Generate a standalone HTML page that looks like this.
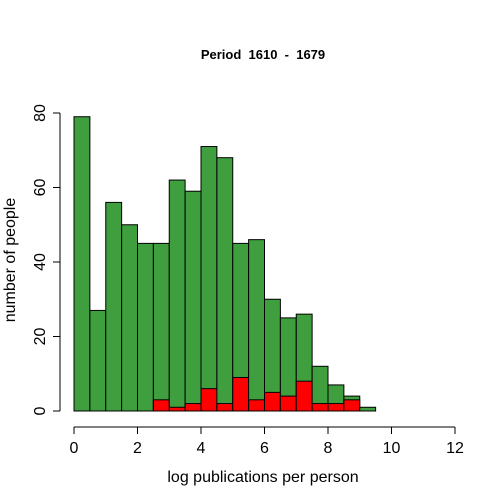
<!DOCTYPE html>
<html><head><meta charset="utf-8"><style>body{margin:0;background:#fff}svg{display:block;font-family:"Liberation Sans",Arial,sans-serif}</style></head>
<body>
<svg id="chart" width="500" height="500">
<text x="263" y="59" text-anchor="middle" font-size="13" font-weight="bold" xml:space="preserve">Period  1610  -  1679</text>
<g id="bars"></g>
<g id="axes"></g>
<text x="263" y="482" text-anchor="middle" font-size="16">log publications per person</text>
<text transform="translate(15,260) rotate(-90)" text-anchor="middle" font-size="16">number of people</text>
</svg>
<script>
const binStarts=[0,0.5,1,1.5,2,2.5,3,3.5,4,4.5,5,5.5,6,6.5,7,7.5,8,8.5,9];
const totalCounts=[79,27,56,50,45,45,62,59,71,68,45,46,30,25,26,12,7,4,1];
const redCounts=[0,0,0,0,0,3,1,2,6,2,9,3,5,4,8,2,2,3,0];
const xTicks=[0,2,4,6,8,10,12];
const yTicks=[0,20,40,60,80];
const binWidth=0.5;
const ns="http://www.w3.org/2000/svg";
const sx=v=>74+v*31.75, sy=v=>411-v*3.725;
const bars=document.getElementById('bars'), axes=document.getElementById('axes');
function mk(tag,attrs,parent){const e=document.createElementNS(ns,tag);for(const k in attrs)e.setAttribute(k,attrs[k]);parent.appendChild(e);return e;}
binStarts.forEach((b,i)=>{
  const g=mk('rect',{x:sx(b),y:sy(totalCounts[i]),width:sx(b+binWidth)-sx(b),height:sy(0)-sy(totalCounts[i]),fill:'#3f9f3f',stroke:'#000','stroke-width':1},bars);
  
  
  if(redCounts[i]>0){
    const r=mk('rect',{x:sx(b),y:sy(redCounts[i]),width:sx(b+binWidth)-sx(b),height:sy(0)-sy(redCounts[i]),fill:'#ff0000',stroke:'#000','stroke-width':1},bars);
    
    
  }
});
const xl=mk('line',{x1:sx(0),x2:sx(12),y1:427,y2:427,stroke:'#000'},axes);


xTicks.forEach(t=>{
  mk('line',{x1:sx(t),x2:sx(t),y1:427,y2:434,stroke:'#000'},axes);
  const tx=mk('text',{x:sx(t),y:453,'text-anchor':'middle','font-size':16},axes);
  tx.textContent=t;
  
  
});
const yl=mk('line',{x1:60,x2:60,y1:sy(0),y2:sy(80),stroke:'#000'},axes);


yTicks.forEach(t=>{
  mk('line',{x1:53,x2:60,y1:sy(t),y2:sy(t),stroke:'#000'},axes);
  const tx=mk('text',{transform:`translate(45,${sy(t)}) rotate(-90)`,'text-anchor':'middle','font-size':16},axes);
  tx.textContent=t;
  
  
});
</script>
</body></html>
